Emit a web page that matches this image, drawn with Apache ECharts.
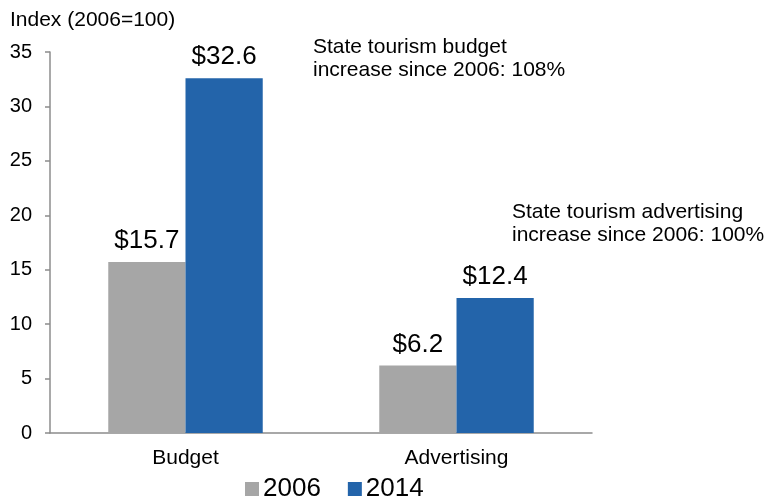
<!DOCTYPE html>
<html>
<head>
<meta charset="utf-8">
<script src="https://cdn.jsdelivr.net/npm/echarts@6/dist/echarts.min.js"></script>
<style>
  html, body { margin: 0; padding: 0; background: #fff; }
  #chart { width: 772px; height: 502px; }
</style>
</head>
<body>
<div id="chart"></div>
<script>
// Tourism budget and advertising, index values
const categories = ['Budget', 'Advertising'];
const seriesNames = ['2006', '2014'];
const values2006 = [15.7, 6.2];
const values2014 = [32.6, 12.4];
const yTicks = [0, 5, 10, 15, 20, 25, 30, 35];
const notes = [
  ['State tourism budget', 'increase since 2006: 108%'],
  ['State tourism advertising', 'increase since 2006: 100%']
];

const FONT = '"Liberation Sans", Arial, sans-serif';
const chart = echarts.init(document.getElementById('chart'));

const valueLabel = {
  show: true,
  position: 'top',
  distance: 8,
  fontFamily: FONT,
  fontSize: 26,
  color: '#000',
  formatter: p => '$' + p.value.toFixed(1)
};

chart.setOption({
  animation: false,
  textStyle: { fontFamily: FONT },
  grid: { left: 50, right: 180, top: 52, bottom: 69, containLabel: false },
  legend: {
    data: seriesNames,
    left: 245,
    top: 476,
    padding: 0,
    itemWidth: 14,
    itemHeight: 14,
    itemGap: 27,
    icon: 'rect',
    textStyle: { fontFamily: FONT, fontSize: 26, color: '#000', padding: [0, 0, 0, -1] }
  },
  graphic: [
    { type: 'text', left: 10, top: 10, style: { text: 'Index (2006=100)', fontFamily: FONT, fontSize: 21, fill: '#000' } },
    { type: 'text', left: 313, top: 36, style: { text: notes[0].join('\n'), fontFamily: FONT, fontSize: 21, lineHeight: 23, fill: '#000' } },
    { type: 'text', left: 512, top: 201, style: { text: notes[1].join('\n'), fontFamily: FONT, fontSize: 21, lineHeight: 23, fill: '#000' } }
  ],
  xAxis: {
    type: 'category',
    data: categories,
    axisLine: { lineStyle: { color: '#8c8c8c', width: 1.5 } },
    axisTick: { show: false },
    axisLabel: { fontFamily: FONT, fontSize: 21, color: '#000', margin: 15 }
  },
  yAxis: {
    type: 'value',
    min: yTicks[0],
    max: yTicks[yTicks.length - 1],
    interval: yTicks[1] - yTicks[0],
    axisLine: { show: true, lineStyle: { color: '#8c8c8c', width: 1.5 } },
    axisTick: { show: true, length: 5, lineStyle: { color: '#8c8c8c', width: 1.5 } },
    splitLine: { show: false },
    axisLabel: { fontFamily: FONT, fontSize: 20, color: '#000', margin: 18 }
  },
  series: [
    {
      name: seriesNames[0],
      type: 'bar',
      data: values2006,
      barGap: '0%',
      barCategoryGap: '43%',
      itemStyle: { color: '#a6a6a6' },
      label: valueLabel
    },
    {
      name: seriesNames[1],
      type: 'bar',
      data: values2014,
      itemStyle: { color: '#2364aa' },
      label: valueLabel
    }
  ]
});
</script>
</body>
</html>
